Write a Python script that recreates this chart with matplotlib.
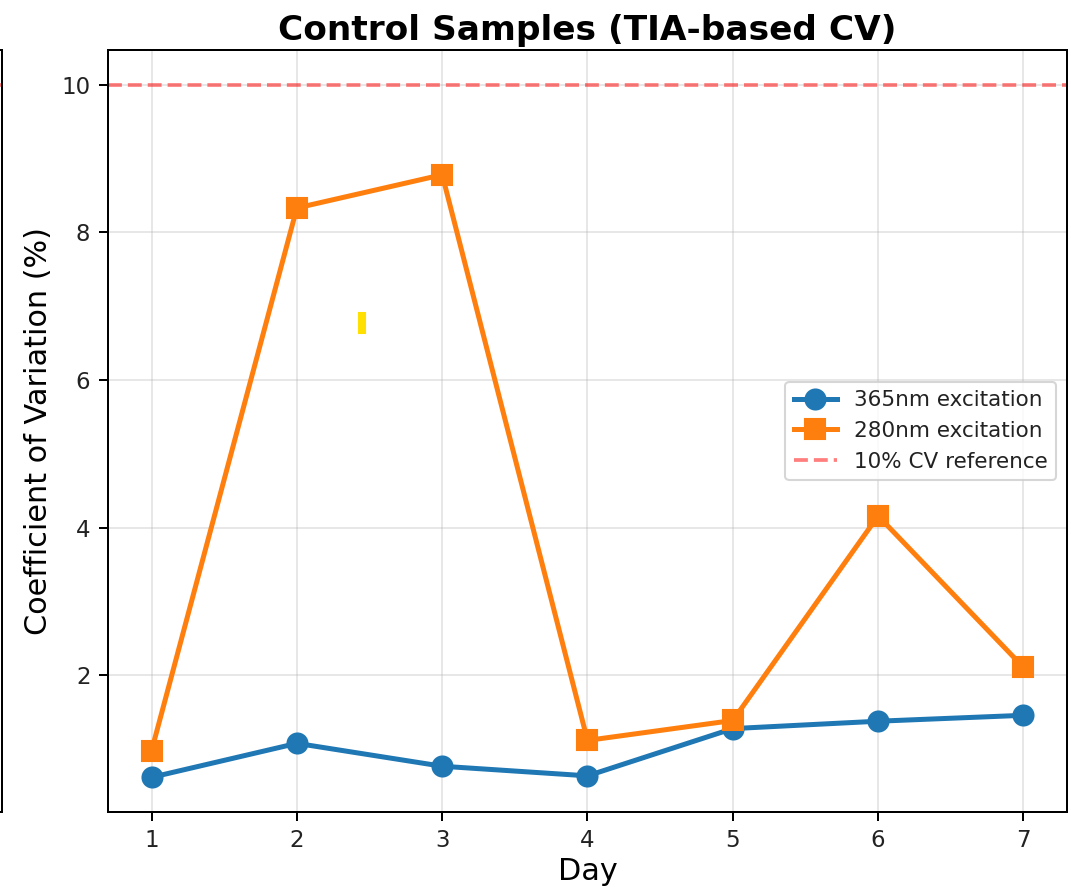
import matplotlib
matplotlib.use("Agg")
import matplotlib.pyplot as plt
from matplotlib.patches import Rectangle

days = [1, 2, 3, 4, 5, 6, 7]
cv_365 = [0.62, 1.08, 0.77, 0.64, 1.28, 1.38, 1.46]
cv_280 = [0.98, 8.33, 8.78, 1.12, 1.39, 4.16, 2.11]
ref_cv = 10

s = 1.2
plt.rcParams['axes.linewidth'] = 0.8 * s
plt.rcParams['xtick.major.size'] = 3.5 * s
plt.rcParams['ytick.major.size'] = 3.5 * s
plt.rcParams['xtick.major.width'] = 0.8 * s
plt.rcParams['ytick.major.width'] = 0.8 * s
plt.rcParams['xtick.major.pad'] = 3.5 * s
plt.rcParams['ytick.major.pad'] = 3.5 * s
plt.rcParams['grid.linewidth'] = 0.8 * s
plt.rcParams['text.color'] = '#222222'
plt.rcParams['xtick.labelcolor'] = '#222222'
plt.rcParams['ytick.labelcolor'] = '#222222'

fig = plt.figure(figsize=(1071/150, 887/150), dpi=150)

# partial neighbouring subplot (cropped at left edge)
ax0 = fig.add_axes([-0.5, 0.0846, 0.502, 0.859])
ax0.axhline(ref_cv, color='red', linestyle='--', alpha=0.5, linewidth=1.5 * s)
ax0.set_ylim(0.13, 10.47)
ax0.set_xticks([]); ax0.set_yticks([])

ax = fig.add_axes([0.1008, 0.0846, 0.8955, 0.859])
ax.plot(days, cv_365, 'o-', color='#1f77b4', linewidth=2 * s, markersize=8 * s, label='365nm excitation')
ax.plot(days, cv_280, 's-', color='#ff7f0e', linewidth=2 * s, markersize=8 * s, label='280nm excitation')
ax.axhline(ref_cv, color='red', linestyle='--', alpha=0.5, linewidth=1.5 * s, label='10% CV reference')
ax.set_title('Control Samples (TIA-based CV)', fontsize=16.5, fontweight='bold', pad=5, color='black')
ax.set_xlabel('Day', fontsize=14.5, labelpad=2)
ax.set_ylabel('Coefficient of Variation (%)', fontsize=14.5, labelpad=4)
ax.set_xticks(days)
ax.tick_params(labelsize=11)
ax.grid(True, alpha=0.3)
ax.legend(loc='center right', fontsize=10.3)

fig.patches.append(Rectangle((359/1071, 1-333/887), 6/1071, 20/887,
                             transform=fig.transFigure, color='#ffe000', zorder=10))

fig.savefig('out.png', dpi=150)
